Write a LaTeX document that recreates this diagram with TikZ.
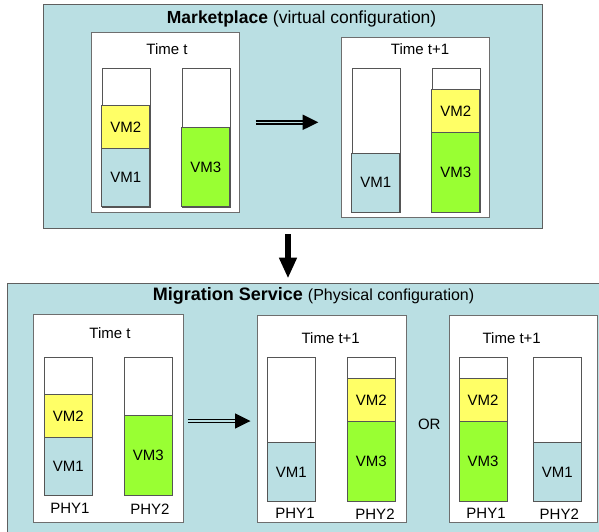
\documentclass[tikz,border=0pt]{standalone}
\usepackage{fontspec}
\setmainfont{Liberation Sans}
\definecolor{panelblue}{RGB}{186,223,227}
\definecolor{panelline}{RGB}{95,95,95}
\definecolor{boxline}{RGB}{110,110,110}
\definecolor{barline}{RGB}{85,85,85}
\definecolor{vmyellow}{RGB}{255,255,102}
\definecolor{vmgreen}{RGB}{153,255,51}

% a white capacity bar: name, left x, top y, bottom y
\newcommand\capbar[4]{%
  \node[barbox, anchor=north west, minimum width=48pt,
        minimum height={(#4)-(#3)}] (#1) at (#2,#3) {};}
% a VM slice inside a bar: name, left x, top y, bottom y, fill, label
\newcommand\vmslice[6]{%
  \draw[barbox, fill=#5] (#2,#3) rectangle ({#2+48},#4);
  \node[vmtext] (#1) at ({#2+24},{(#3+#4)/2}) {#6};}

\begin{document}
\begin{tikzpicture}[x=1pt, y=-1pt,
  panel/.style={draw=panelline, fill=panelblue, line width=1pt, inner sep=0pt},
  timebox/.style={draw=boxline, fill=white, line width=0.8pt, inner sep=0pt},
  barbox/.style={draw=barline, fill=white, line width=0.8pt, inner sep=0pt},
  vmtext/.style={font=\fontsize{15}{18}\selectfont, inner sep=0pt},
  lbl/.style={font=\fontsize{15}{18}\selectfont, anchor=base, inner sep=0pt},
  ttl/.style={anchor=base west, inner sep=0pt},
  dblshaft/.style={draw=black, line width=1.6pt, double=panelblue, double distance=1.4pt},
  head/.style={fill=black}]
\useasboundingbox (0,0) rectangle (599,532);
\clip (0,0) rectangle (599,532);

% ---------- virtual configuration ----------
\node[panel, anchor=north west, minimum width=499.6pt, minimum height=223.7pt]
  (market) at (42.7,4) {};
\node[ttl] (markettitle) at (166.7,23.3)
  {\fontsize{17.5}{20}\selectfont\textbf{Marketplace} (virtual configuration)};

\node[timebox, anchor=north west, minimum width=148.6pt, minimum height=180.6pt]
  (mt) at (90.7,31.7) {};
\node[lbl] (mtlabel) at (167,55) {Time t};
\capbar{mtA}{101.7}{68.3}{206.7}
\vmslice{mtA2}{101.7}{105.7}{148.3}{vmyellow}{VM2}
\vmslice{mtA1}{101.7}{148.3}{206.7}{panelblue}{VM1}
\capbar{mtB}{181.7}{68.3}{206.7}
\vmslice{mtB3}{181.7}{127.3}{206.7}{vmgreen}{VM3}

\node[timebox, anchor=north west, minimum width=148.6pt, minimum height=180.6pt]
  (mn) at (340.7,36.7) {};
\node[lbl] (mnlabel) at (420,55) {Time t+1};
\capbar{mnA}{351.7}{68.3}{212.3}
\vmslice{mnA1}{351.7}{153.3}{212.3}{panelblue}{VM1}
\capbar{mnB}{431.7}{68.3}{212.3}
\vmslice{mnB2}{431.7}{89.3}{132.3}{vmyellow}{VM2}
\vmslice{mnB3}{431.7}{132.3}{212.3}{vmgreen}{VM3}

% transition arrow
\coordinate (mfrom) at (255.7,122.3);
\coordinate (mhead) at (302.7,122.3);
\coordinate (mto) at (318.3,122.3);
\draw[dblshaft] (mfrom) -- ([xshift=1pt]mhead);
\fill[head] ([yshift=7.7pt]mhead) -- (mto) -- ([yshift=-7.7pt]mhead) -- cycle;

% ---------- from marketplace to migration ----------
\coordinate (dfrom) at (288,234.3);
\coordinate (dhead) at (288,257.7);
\coordinate (dto) at (288,277.7);
\draw[line width=5.7pt] (dfrom) -- ([yshift=-1pt]dhead);
\fill[head] ([xshift=-9.2pt]dhead) -- (dto) -- ([xshift=9.2pt]dhead) -- cycle;

% ---------- physical configuration ----------
\node[panel, anchor=north west, minimum width=591.8pt, minimum height=265pt]
  (migr) at (6.7,282.7) {};
\node[ttl] (migrtitle) at (152.7,300.3)
  {\fontsize{18}{20}\selectfont\textbf{Migration Service} \fontsize{16}{20}\selectfont(Physical configuration)};

\node[timebox, anchor=north west, minimum width=149.4pt, minimum height=208pt]
  (pt) at (33.3,314.3) {};
\node[lbl] (ptlabel) at (110,338.3) {Time t};
\capbar{ptA}{44.3}{357.3}{495.3}
\vmslice{ptA2}{44.3}{394.3}{437.3}{vmyellow}{VM2}
\vmslice{ptA1}{44.3}{437.3}{495.3}{panelblue}{VM1}
\capbar{ptB}{124.3}{357.3}{495.3}
\vmslice{ptB3}{124.3}{415.7}{495.3}{vmgreen}{VM3}
\node[lbl] (ptphy1) at (70,513.3) {PHY1};
\node[lbl] (ptphy2) at (150,514) {PHY2};

% migration arrow
\coordinate (pfrom) at (187.7,421);
\coordinate (phead) at (235,421);
\coordinate (pto) at (250.5,421);
\draw[dblshaft] (pfrom) -- ([xshift=1pt]phead);
\fill[head] ([yshift=7.7pt]phead) -- (pto) -- ([yshift=-7.7pt]phead) -- cycle;

\node[timebox, anchor=north west, minimum width=148.7pt, minimum height=206.7pt]
  (pn) at (257.3,315) {};
\node[lbl] (pnlabel) at (330.7,343.3) {Time t+1};
\capbar{pnA}{267.3}{357.3}{501}
\vmslice{pnA1}{267.3}{442.7}{501}{panelblue}{VM1}
\capbar{pnB}{347.3}{357.3}{501}
\vmslice{pnB2}{347.3}{378.7}{421.3}{vmyellow}{VM2}
\vmslice{pnB3}{347.3}{421.3}{501}{vmgreen}{VM3}
\node[lbl] (pnphy1) at (295,518.3) {PHY1};
\node[lbl] (pnphy2) at (375,519.5) {PHY2};

\node[vmtext] (or) at (429.3,424) {OR};

\node[timebox, anchor=north west, minimum width=148.6pt, minimum height=206.7pt]
  (po) at (448.7,315) {};
\node[lbl] (polabel) at (511.7,343.3) {Time t+1};
\capbar{poA}{459}{357.3}{501}
\vmslice{poA2}{459}{378.7}{421.3}{vmyellow}{VM2}
\vmslice{poA3}{459}{421.3}{501}{vmgreen}{VM3}
\capbar{poB}{533.3}{357.3}{501}
\vmslice{poB1}{533.3}{442.7}{501}{panelblue}{VM1}
\node[lbl] (pophy1) at (486,518.3) {PHY1};
\node[lbl] (pophy2) at (559.3,519) {PHY2};
\end{tikzpicture}
\end{document}
